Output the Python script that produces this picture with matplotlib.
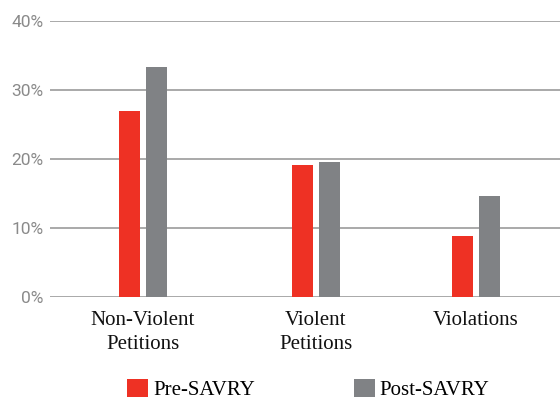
import matplotlib
matplotlib.use("Agg")
from matplotlib import pyplot as plt
from matplotlib.ticker import FuncFormatter

# data
categories = ["Non-Violent\nPetitions", "Violent\nPetitions", "Violations"]
pre_savry = [26.9, 19.1, 8.9]
post_savry = [33.3, 19.5, 14.7]
series_labels = ["Pre-SAVRY", "Post-SAVRY"]
yticks = [0, 10, 20, 30, 40]

# layout (x positions in a pixel-like frame, groups are not evenly spaced)
group_x = [143, 316, 475.5]
offset = 13.5
bar_w = 21
red = "#ee3124"
grey = "#808285"
serif = ["Liberation Serif", "DejaVu Serif"]
narrow = ["Liberation Sans Narrow", "Roboto", "DejaVu Sans"]

fig = plt.figure(figsize=(5.6, 4.0), dpi=100)
ax = fig.add_axes([50 / 560, 1 - 297 / 400, 510 / 560, 276 / 400])

pre_bars = ax.bar([x - offset for x in group_x], pre_savry, width=bar_w,
                  color=red, zorder=3, label=series_labels[0])
post_bars = ax.bar([x + offset for x in group_x], post_savry, width=bar_w,
                   color=grey, zorder=3, label=series_labels[1])

ax.set_xlim(50, 560)
ax.set_ylim(0, 40)
ax.set_yticks(yticks)
ax.yaxis.set_major_formatter(FuncFormatter(lambda v, p: "%d%%" % v))
ax.grid(axis="y", color="#a3a3a3", linewidth=1.3, zorder=0)
ax.set_xticks(group_x)
ax.set_xticklabels(categories, fontfamily=serif, fontsize=15,
                   linespacing=1.38, color="#111111")
for lab in ax.get_yticklabels():
    lab.set_fontfamily(narrow)
    lab.set_fontsize(12.5)
    lab.set_color("#8a8a8a")
ax.tick_params(axis="both", length=0)
ax.tick_params(axis="y", pad=4.5)
ax.tick_params(axis="x", pad=10)
for s in ax.spines.values():
    s.set_visible(False)

fig.legend(handles=[pre_bars, post_bars], labels=series_labels,
           loc="lower left", bbox_to_anchor=(127 / 560, 0.0), ncol=2,
           frameon=False, handlelength=1.0, handleheight=1.0,
           handletextpad=0.25, columnspacing=4.75, borderpad=0.0,
           borderaxespad=0.0, prop={"family": serif, "size": 15})

fig.savefig("out.png", dpi=100)
